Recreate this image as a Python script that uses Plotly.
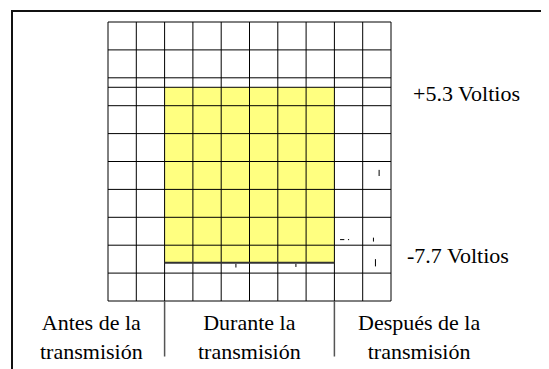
import plotly.graph_objects as go

# ---- data ----
grid_cols = list(range(0, 11))          # vertical grid lines (column units)
grid_rows = list(range(0, 11))          # horizontal grid lines (row units)
extra_row = [7.66]                       # extra horizontal line (top of signal)
phase_bounds = [0, 2, 8, 10]             # before / during / after transmission
signal_top = 7.66
signal_bottom = 1.37
phase_labels = ["Antes de la<br>transmisión", "Durante la<br>transmisión", "Después de la<br>transmisión"]
phase_label_x = [-0.6, 5.0, 11.0]
phase_label_y = -1.29
level_labels = ["+5.3 Voltios", "-7.7 Voltios"]
level_label_x = [12.67, 12.37]
level_label_y = [7.45, 1.62]
artifact_ticks = [  # tiny stray marks (u, v0, v1)
    (4.52, 1.33, 1.2), (6.64, 1.33, 1.22), (9.38, 2.27, 2.13),
    (9.45, 1.5, 1.24), (9.58, 4.7, 4.48)]
artifact_dash = [(8.2, 8.35, 2.2), (8.48, 8.52, 2.2)]

# ---- layout mapping (page body has an 8px margin) ----
OFF = 8
CW, RH = 28.3, 27.9
X0PX, Y0PX = 108 - OFF, 301 - OFF
W, H = 549, 369
xr = [-X0PX / CW, (W - X0PX) / CW]
yr = [Y0PX / RH - H / RH, Y0PX / RH]

fig = go.Figure()
shapes = []

# signal fill
shapes.append(dict(type="rect", xref="x", yref="y", x0=phase_bounds[1], x1=phase_bounds[2],
                   y0=signal_bottom, y1=signal_top, fillcolor="#FFFF80",
                   line=dict(width=0), layer="below"))
gc = "#000000"
for c in grid_cols:
    shapes.append(dict(type="line", xref="x", yref="y", x0=c, x1=c, y0=grid_rows[0], y1=grid_rows[-1],
                       line=dict(color=gc, width=1)))
for r in grid_rows + extra_row:
    shapes.append(dict(type="line", xref="x", yref="y", x0=grid_cols[0], x1=grid_cols[-1], y0=r, y1=r,
                       line=dict(color=gc, width=1)))
# signal bottom line
shapes.append(dict(type="line", xref="x", yref="y", x0=phase_bounds[1], x1=phase_bounds[2],
                   y0=signal_bottom, y1=signal_bottom, line=dict(color="#333333", width=2)))
# phase separators
for b in phase_bounds[1:3]:
    shapes.append(dict(type="line", xref="x", yref="y", x0=b, x1=b, y0=0, y1=-1.99,
                       line=dict(color="#555555", width=1.5)))
# stray marks
for (u, v0, v1) in artifact_ticks:
    shapes.append(dict(type="line", xref="x", yref="y", x0=u, x1=u, y0=v0, y1=v1,
                       line=dict(color="#000", width=1)))
for (u0, u1, v) in artifact_dash:
    shapes.append(dict(type="line", xref="x", yref="y", x0=u0, x1=u1, y0=v, y1=v,
                       line=dict(color="#000", width=1)))
# outer frame (paper pixels)
def px_x(p):
    return (p - OFF) / W
def px_y(p):
    return 1 - (p - OFF) / H
shapes.append(dict(type="line", xref="paper", yref="paper", x0=px_x(12), x1=px_x(12), y0=px_y(10), y1=-0.1,
                   line=dict(color="#111", width=2)))
shapes.append(dict(type="line", xref="paper", yref="paper", x0=px_x(11), x1=px_x(548), y0=px_y(11), y1=px_y(11),
                   line=dict(color="#111", width=2)))
shapes.append(dict(type="line", xref="paper", yref="paper", x0=px_x(547.5), x1=px_x(547.5), y0=px_y(11), y1=-0.1,
                   line=dict(color="#888", width=1)))

ann = []
font = dict(family="Liberation Serif", size=22, color="#000")
for t, x in zip(phase_labels, phase_label_x):
    ann.append(dict(text=t, x=x, y=phase_label_y, xref="x", yref="y", showarrow=False,
                    font=font, xanchor="center", yanchor="middle", align="center"))
for t, x, y in zip(level_labels, level_label_x, level_label_y):
    ann.append(dict(text=t, x=x, y=y, xref="x", yref="y", showarrow=False,
                    font=font, xanchor="center", yanchor="middle"))

fig.update_layout(width=W, height=H, autosize=False, margin=dict(l=0, r=0, t=0, b=0),
                  paper_bgcolor="white", plot_bgcolor="white", shapes=shapes, annotations=ann,
                  showlegend=False)
fig.update_xaxes(range=xr, visible=False, showgrid=False, zeroline=False, fixedrange=True)
fig.update_yaxes(range=yr, visible=False, showgrid=False, zeroline=False, fixedrange=True)
fig.write_html("out.html")
